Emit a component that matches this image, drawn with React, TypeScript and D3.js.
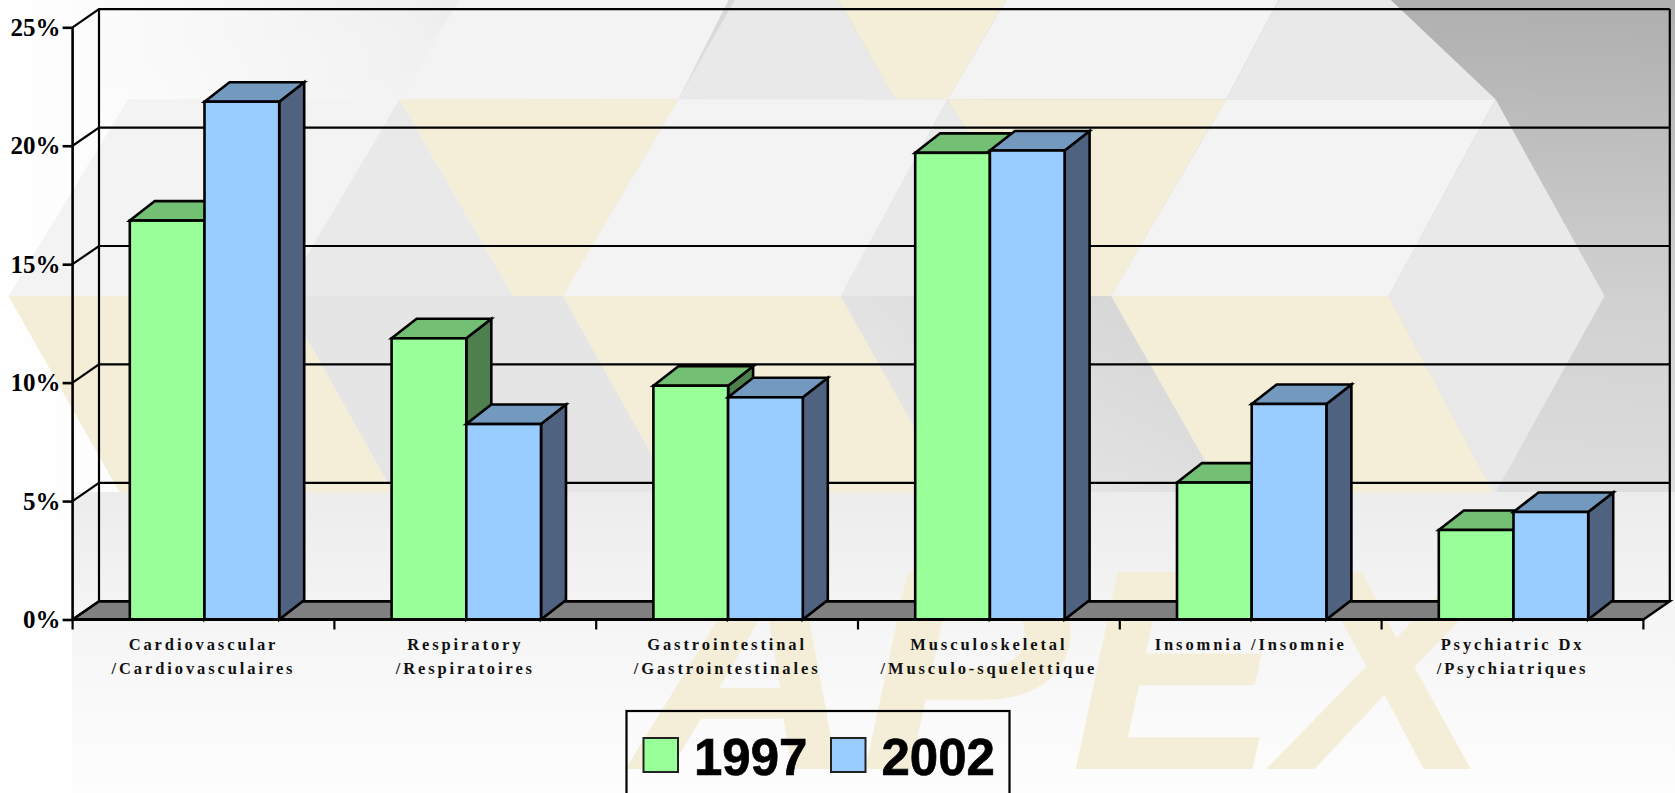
import React, {useEffect, useRef} from 'react';
import * as d3 from 'd3';

const WIDTH = 1675;
const HEIGHT = 793;

const categories = ['cardio', 'resp', 'gastro', 'musculo', 'insomnia', 'psych'];
const labelLines: string[][] = [
  ['Cardiovascular', '/Cardiovasculaires'],
  ['Respiratory', '/Respiratoires'],
  ['Gastrointestinal', '/Gastrointestinales'],
  ['Musculoskeletal', '/Musculo-squelettique'],
  ['Insomnia /Insomnie'],
  ['Psychiatric Dx', '/Psychiatriques'],
];
const seriesNames = ['1997', '2002'];
const values1997 = [16.84, 11.87, 9.87, 19.7, 5.78, 3.78];
const values2002 = [21.86, 8.25, 9.38, 19.8, 9.1, 4.54];
const yTicks = [0, 5, 10, 15, 20, 25];

const frontColors = ['#99ff99', '#99ccff'];
const topColors = ['#73bf73', '#7399bf'];
const sideColors = ['#4d804d', '#4f6380'];

const CREAM = '#f4eed8';
const PALE = '#f3f3f3';
const SHADE = '#e9e9e9';

// backdrop tiles (1568 wide)
const tiles: [string, number[][]][] = [
  [PALE, [[374, 93], [430, 0], [682, 0], [635, 93]]],
  [SHADE, [[635, 93], [688, 0], [785, 0], [838, 93]]],
  [CREAM, [[785, 0], [942, 0], [887, 93], [838, 93]]],
  [PALE, [[887, 93], [942, 0], [1197, 0], [1148, 93]]],
  [SHADE, [[1148, 93], [1197, 0], [1302, 0], [1400, 93]]],
  [PALE, [[120, 93], [374, 93], [265, 277], [8, 277]]],
  [SHADE, [[374, 93], [480, 277], [265, 277]]],
  [CREAM, [[374, 93], [635, 93], [527, 277], [480, 277]]],
  [PALE, [[635, 93], [887, 93], [787, 277], [527, 277]]],
  [SHADE, [[887, 93], [1000, 277], [787, 277]]],
  [CREAM, [[887, 93], [1148, 93], [1040, 277], [1000, 277]]],
  [PALE, [[1148, 93], [1400, 93], [1300, 277], [1040, 277]]],
  [SHADE, [[1400, 93], [1502, 277], [1300, 277]]],
  [CREAM, [[8, 277], [265, 277], [368, 461], [112, 461]]],
  ['#e5e5e5', [[265, 277], [527, 277], [630, 461], [368, 461]]],
  [CREAM, [[527, 277], [787, 277], [890, 461], [630, 461]]],
  [CREAM, [[1040, 277], [1300, 277], [1398, 461], [1145, 461]]],
  [SHADE, [[1300, 277], [1502, 277], [1400, 461], [1398, 461]]],
];

function App() {
  const ref = useRef<SVGSVGElement>(null);

  useEffect(() => {
    document.body.style.margin = '0';
    const svg = d3.select(ref.current);
    svg.selectAll('*').remove();

    const depthX = 26.4;
    const depthY = 18.2;
    const barDepthX = 25;
    const barDepthY = 19.5;

    const x = d3.scaleBand<string>().domain(categories).range([72.6, 1643.4]);
    const inner = d3.scaleBand<string>().domain(seriesNames).range([57.2, 206.6]);
    const y = d3.scaleLinear().domain([0, 25]).range([619.5, 27.3]);
    const shrink = WIDTH / 1568;
    const line = d3.line();

    // page backdrop
    const defs = svg.append('defs');
    const across = defs.append('linearGradient').attr('id', 'across');
    [[0, '#ffffff'], [0.25, '#f0f0f0'], [0.6, '#c0c0c0'], [0.75, '#b0b0b0'], [1, '#aeaeae']].forEach(([o, c]) =>
      across.append('stop').attr('offset', o as number).attr('stop-color', c as string));
    const down = defs.append('linearGradient').attr('id', 'down')
        .attr('x1', 0).attr('x2', 0).attr('y1', 0).attr('y2', 1);
    [[0, 0], [0.38, 0.43], [0.57, 0.55], [0.76, 0.72], [0.88, 0.87], [0.98, 0.95], [1, 0.97]].forEach(([o, a]) =>
      down.append('stop').attr('offset', o).attr('stop-color', '#ffffff').attr('stop-opacity', a));
    const lower = defs.append('linearGradient').attr('id', 'lower')
        .attr('x1', 0).attr('x2', 0).attr('y1', 0).attr('y2', 1);
    [[0, '#ececec'], [0.42, '#f5f5f5'], [0.75, '#fafafa'], [1, '#fdfdfd']].forEach(([o, c]) =>
      lower.append('stop').attr('offset', o as number).attr('stop-color', c as string));
    svg.append('rect').attr('width', WIDTH).attr('height', HEIGHT).attr('fill', 'url(#across)');
    svg.append('rect').attr('width', WIDTH).attr('height', HEIGHT).attr('fill', 'url(#down)');
    svg.append('rect')
        .attr('x', 72).attr('y', 492)
        .attr('width', WIDTH - 72).attr('height', HEIGHT - 492)
        .attr('fill', 'url(#lower)');

    svg.append('g').selectAll('path')
        .data(tiles)
        .enter()
        .append('path')
        .attr('fill', (d) => d[0])
        .attr('d', (d) => line(d[1].map(([a, b]) => [a * shrink, b * shrink]) as [number, number][]) + 'Z');

    svg.append('text')
        .attr('x', 632)
        .attr('y', 769)
        .attr('textLength', 859)
        .attr('lengthAdjust', 'spacingAndGlyphs')
        .attr('font-family', 'Liberation Sans')
        .attr('font-weight', 'bold')
        .attr('font-style', 'italic')
        .attr('font-size', 286)
        .attr('fill', CREAM)
        .text('APEX');

    // floor and walls
    const x0 = 72.6;
    const x1 = 1643.4;
    const base = y(0);
    svg.append('path')
        .attr('fill', '#808080')
        .attr('stroke', 'black')
        .attr('stroke-width', 2.4)
        .attr('d', line([[x0, base], [x0 + depthX, base - depthY], [x1 + depthX, base - depthY], [x1, base]]) + 'Z');

    const grid = svg.append('g').attr('fill', 'none').attr('stroke', 'black').attr('stroke-width', 2.2);
    yTicks.forEach((t) => {
      grid.append('path').attr('d', line([
        [x0, y(t)],
        [x0 + depthX, y(t) - depthY],
        [x1 + depthX, y(t) - depthY],
      ]));
    });
    grid.append('path').attr('d', line([[x0 + depthX, y(25) - depthY], [x0 + depthX, base - depthY]]));
    grid.append('path').attr('d', line([[x1 + depthX, y(25) - depthY], [x1 + depthX, base - depthY]]));

    // bars
    const bars = svg.append('g').attr('stroke', 'black').attr('stroke-width', 2.6).attr('stroke-linejoin', 'miter');
    categories.forEach((c, i) => {
      [values1997, values2002].forEach((vals, s) => {
        const left = x(c) + inner(seriesNames[s]);
        const right = left + inner.bandwidth();
        const top = y(vals[i]);
        bars.append('path').attr('fill', sideColors[s]).attr('d', line([
          [right, top], [right + barDepthX, top - barDepthY],
          [right + barDepthX, base - barDepthY], [right, base],
        ]) + 'Z');
        bars.append('path').attr('fill', topColors[s]).attr('d', line([
          [left, top], [left + barDepthX, top - barDepthY],
          [right + barDepthX, top - barDepthY], [right, top],
        ]) + 'Z');
        bars.append('rect').attr('fill', frontColors[s])
            .attr('x', left).attr('y', top)
            .attr('width', inner.bandwidth()).attr('height', base - top);
      });
    });

    // axes
    const yAxis = svg.append('g')
        .attr('transform', `translate(${x0},0)`)
        .call(d3.axisLeft(y).tickValues(yTicks).tickSize(10).tickPadding(2).tickFormat((d) => d + '%'));
    yAxis.selectAll('line').attr('stroke', 'black').attr('stroke-width', 2.6);
    yAxis.select('.domain').attr('stroke', 'black').attr('stroke-width', 2.6).attr('d', `M0,${y(25)}V${base}`);
    yAxis.selectAll('text')
        .attr('font-family', 'Liberation Serif')
        .attr('font-weight', 'bold')
        .attr('font-size', 25)
        .attr('fill', 'black');

    const step = x.step();
    svg.append('path')
        .attr('stroke', 'black')
        .attr('stroke-width', 2.8)
        .attr('fill', 'none')
        .attr('d', line([[x0, base], [x1, base]]));
    d3.range(categories.length + 1).forEach((i) => {
      svg.append('line')
          .attr('x1', x0 + i * step).attr('x2', x0 + i * step)
          .attr('y1', base).attr('y2', base + 10)
          .attr('stroke', 'black').attr('stroke-width', 2.2);
    });

    const labels = svg.append('g')
        .attr('font-family', 'Liberation Serif')
        .attr('font-weight', 'bold')
        .attr('font-size', 16.5)
        .attr('letter-spacing', 2.9)
        .attr('text-anchor', 'middle')
        .attr('fill', '#111');
    labelLines.forEach((lines, i) => {
      lines.forEach((t, j) => {
        labels.append('text')
            .attr('x', x(categories[i]) + x.bandwidth() / 2)
            .attr('y', 650 + j * 24)
            .text(t);
      });
    });

    // legend, runs off the bottom of the page
    svg.append('rect')
        .attr('x', 626.5).attr('y', 711)
        .attr('width', 383).attr('height', 120)
        .attr('fill', 'none').attr('stroke', 'black').attr('stroke-width', 2.2);
    const legendX = [643.5, 831];
    seriesNames.forEach((name, s) => {
      svg.append('rect')
          .attr('x', legendX[s]).attr('y', 738)
          .attr('width', 34.5).attr('height', 34)
          .attr('fill', frontColors[s]).attr('stroke', '#222').attr('stroke-width', 2);
      svg.append('text')
          .attr('x', legendX[s] + 50.5).attr('y', 775)
          .attr('font-family', 'Liberation Sans')
          .attr('font-weight', 'bold')
          .attr('font-size', 51)
          .attr('fill', 'black')
          .attr('stroke', 'black')
          .attr('stroke-width', 0.7)
          .text(name);
    });
  }, []);

  return <svg ref={ref} width={WIDTH} height={HEIGHT} style={{display: 'block'}}/>;
}

export default App;
